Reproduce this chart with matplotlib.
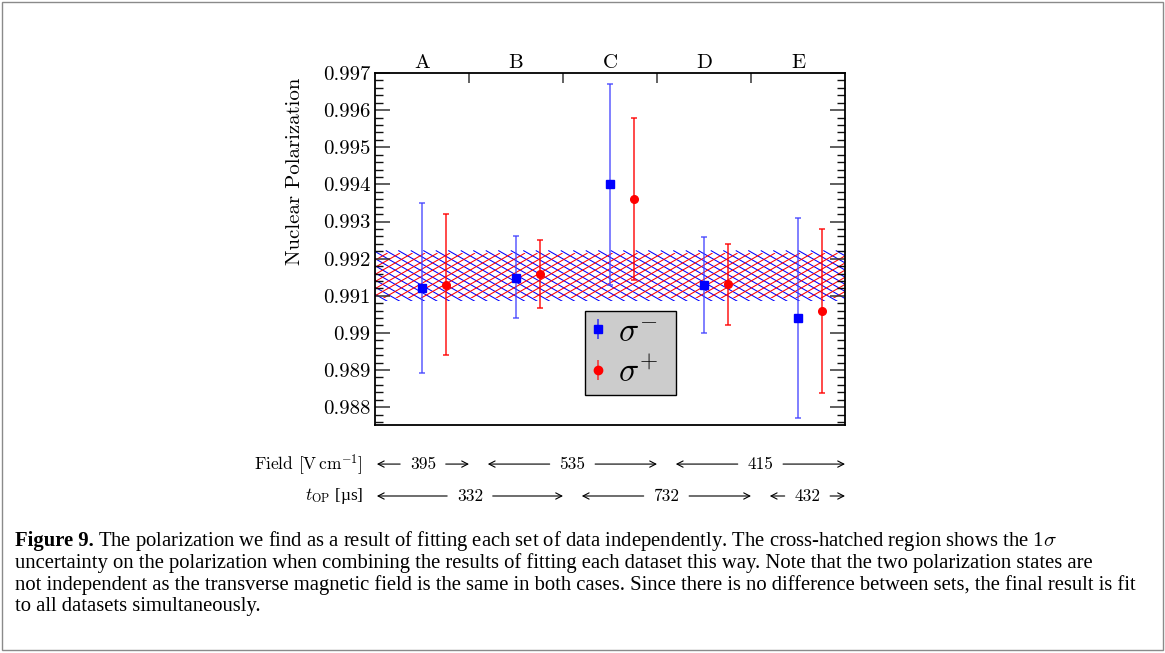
import numpy as np
import matplotlib
matplotlib.use("Agg")
import matplotlib.pyplot as plt
from matplotlib.lines import Line2D
from matplotlib.collections import LineCollection
from matplotlib.patches import Rectangle
from matplotlib.transforms import Affine2D

plt.rcParams['font.family'] = ['cmr10', 'DejaVu Serif']
plt.rcParams['mathtext.fontset'] = 'cm'
plt.rcParams['axes.unicode_minus'] = False

# ---------------- data ----------------
categories = ['A', 'B', 'C', 'D', 'E']
sm_val = [0.99120, 0.99149, 0.99400, 0.99130, 0.99040]
sm_hi = [0.99349, 0.99261, 0.99670, 0.99259, 0.99310]
sm_lo = [0.98891, 0.99039, 0.99130, 0.99000, 0.98771]
sp_val = [0.99130, 0.99160, 0.99360, 0.99131, 0.99059]
sp_hi = [0.99319, 0.99250, 0.99579, 0.99240, 0.99280]
sp_lo = [0.98940, 0.99068, 0.99142, 0.99020, 0.98839]
band_sm = [0.99085, 0.99222]
band_sp = [0.99093, 0.99215]

field_labels = ['395', '535', '415']
field_spans = [(0, 1), (1, 3), (3, 5)]
top_labels = ['332', '732', '432']
top_spans = [(0, 2), (2, 4), (4, 5)]

ymin, ymax = 0.98752, 0.997

caption_lines = [
    "The polarization we find as a result of fitting each set of data independently. The cross-hatched region shows the 1$\\sigma$",
    "uncertainty on the polarization when combining the results of fitting each dataset this way. Note that the two polarization states are",
    "not independent as the transverse magnetic field is the same in both cases. Since there is no difference between sets, the final result is fit",
    "to all datasets simultaneously.",
]

# ---------------- figure ----------------
W_px, H_px = 1165, 653
fig = plt.figure(figsize=(W_px / 100, H_px / 100), dpi=100)
fig.patches.append(Rectangle((0.002, 0.004), 0.996, 0.993, transform=fig.transFigure,
                             fill=False, edgecolor='#8a8a8a', lw=1.0))

ax = fig.add_axes([375 / W_px, 1 - 425 / H_px, 470 / W_px, 352 / H_px])
ax.set_xlim(0, len(categories))
ax.set_ylim(ymin, ymax)

n = len(categories)
x_idx = np.arange(n)
x_sm = x_idx + 0.5
x_sp = x_idx + 0.75

# ---------------- hatched bands ----------------
pos = ax.get_position()
AW = pos.width * W_px
AH = pos.height * H_px
pix = Affine2D().scale(1 / AW, 1 / AH) + ax.transAxes


def hatch_band(lo, hi, color, direction, slope=0.57, spacing=12.5):
    yb = (lo - ymin) / (ymax - ymin) * AH
    yt = (hi - ymin) / (ymax - ymin) * AH
    h = yt - yb
    segs = []
    dx = h / slope
    starts = np.arange(-dx - spacing, AW + spacing, spacing)
    for s in starts:
        if direction < 0:
            segs.append([(s, yt), (s + dx, yb)])
        else:
            segs.append([(s, yb), (s + dx, yt)])
    lc = LineCollection(segs, colors=color, linewidths=0.75, transform=pix, zorder=1)
    ax.add_collection(lc)
    clip = Rectangle((0, yb), AW, h, transform=pix, fill=False, visible=False)
    ax.add_patch(clip)
    lc.set_clip_path(clip)


hatch_band(band_sm[0], band_sm[1], '#0000ff', -1)
hatch_band(band_sp[0], band_sp[1], '#ff0000', +1)

# ---------------- error bars ----------------
sm_val_a = np.array(sm_val)
sp_val_a = np.array(sp_val)
sm_err = [sm_val_a - np.array(sm_lo), np.array(sm_hi) - sm_val_a]
sp_err = [sp_val_a - np.array(sp_lo), np.array(sp_hi) - sp_val_a]

ax.errorbar(x_sm, sm_val, yerr=sm_err, fmt='s', color='#0000ff', ms=5.5,
            ecolor=(0.25, 0.25, 1.0, 0.85), elinewidth=1.1, capsize=2.5, capthick=1.1, zorder=3)
ax.errorbar(x_sp, sp_val, yerr=sp_err, fmt='o', color='#ff0000', ms=5.5,
            ecolor=(1.0, 0.0, 0.0, 0.9), elinewidth=1.1, capsize=2.5, capthick=1.1, zorder=3)

# ---------------- axes styling ----------------
ax.yaxis.set_major_locator(matplotlib.ticker.MultipleLocator(0.001))
ax.yaxis.set_minor_locator(matplotlib.ticker.MultipleLocator(0.0002))
ax.yaxis.set_major_formatter(matplotlib.ticker.FuncFormatter(lambda v, p: f"{v:.3f}".rstrip('0')))
ax.tick_params(axis='y', which='both', direction='in', left=True, right=True, labelsize=15,
               color='#333333')
ax.tick_params(axis='y', which='major', length=11, width=1.1)
ax.tick_params(axis='y', which='minor', length=5.5, width=1.0, color='#111111')

ax.xaxis.set_ticks_position('top')
ax.set_xticks(np.arange(1, n))
ax.set_xticklabels([])
ax.set_xticks(x_idx + 0.5, minor=True)
ax.set_xticklabels(categories, minor=True)
ax.tick_params(axis='x', which='major', direction='in', length=7, width=1.3, color='#555555')
ax.tick_params(axis='x', which='minor', length=0, labelsize=15, pad=1)

for sp in ax.spines.values():
    sp.set_linewidth(1.3)

ax.set_ylabel('Nuclear Polarization', fontsize=15)
ax.yaxis.set_label_coords(-0.152, 0.72)

# ---------------- legend ----------------
h_sm = (Line2D([], [], color='#0000ff', marker='|', ms=14, mew=1.2, ls='none', alpha=0.7),
        Line2D([], [], color='#0000ff', marker='s', ms=6, ls='none'))
h_sp = (Line2D([], [], color='#ff0000', marker='|', ms=14, mew=1.2, ls='none', alpha=0.7),
        Line2D([], [], color='#ff0000', marker='o', ms=6, ls='none'))
leg = ax.legend([h_sm, h_sp], [r'$\sigma^{-}$', r'$\sigma^{+}$'], loc='upper left',
                bbox_to_anchor=(0.447, 0.125, 0.194, 0.2), mode='expand', fontsize=24,
                frameon=True, fancybox=False,
                facecolor='#cccccc', edgecolor='black', framealpha=1, handlelength=0.4,
                handletextpad=0.4, borderpad=0.2, labelspacing=0.3, borderaxespad=0)
leg.get_frame().set_linewidth(1.0)
leg.set_zorder(5)

# ---------------- annotations below ----------------
tr = ax.get_xaxis_transform()
row_y = [-0.111, -0.2017]
ax.text(-0.025, row_y[0], r'Field [V$\,$cm$^{-1}$]', transform=ax.transAxes, ha='right',
        va='center', fontsize=12.5)
ax.text(-0.025, row_y[1], r'$t_{\rm OP}$ [µs]', transform=ax.transAxes, ha='right',
        va='center', fontsize=12.5, family='Liberation Serif')


def span_row(labels, spans, y):
    for lab, (a, b) in zip(labels, spans):
        left = a + (0.2 if a > 0 else 0.02)
        right = b
        c = 0.5 * (left + right)
        ap = dict(arrowstyle='->,head_length=0.35,head_width=0.18', lw=0.8, color='black',
                  shrinkA=5, shrinkB=0)
        ax.annotate(lab, xy=(left, y), xytext=(c, y), xycoords=tr, textcoords=tr,
                    ha='center', va='center', fontsize=12.5, arrowprops=ap, annotation_clip=False)
        ax.annotate(lab, xy=(right, y), xytext=(c, y), xycoords=tr, textcoords=tr,
                    ha='center', va='center', fontsize=12.5, color='none', arrowprops=ap,
                    annotation_clip=False)


span_row(field_labels, field_spans, row_y[0])
span_row(top_labels, top_spans, row_y[1])

# ---------------- caption ----------------
cap_font = 'Liberation Serif'
renderer = fig.canvas.get_renderer()
x0 = 15 / W_px
ys = [541, 563, 585, 607]
probe = fig.text(x0, 0.5, caption_lines[2], fontsize=12, family=cap_font)
wpx = probe.get_window_extent(renderer).width
probe.remove()
fs = 12 * (1138 - 15) / wpx

bold = fig.text(x0, 1 - ys[0] / H_px, 'Figure 9.', fontsize=fs, family=cap_font,
                weight='bold', va='center')
bw = bold.get_window_extent(renderer).width
fig.text(x0 + (bw + 4) / W_px, 1 - ys[0] / H_px, caption_lines[0], fontsize=fs,
         family=cap_font, va='center')
for line, yy in zip(caption_lines[1:], ys[1:]):
    fig.text(x0, 1 - yy / H_px, line, fontsize=fs, family=cap_font, va='center')

fig.savefig('out.png', dpi=100)
